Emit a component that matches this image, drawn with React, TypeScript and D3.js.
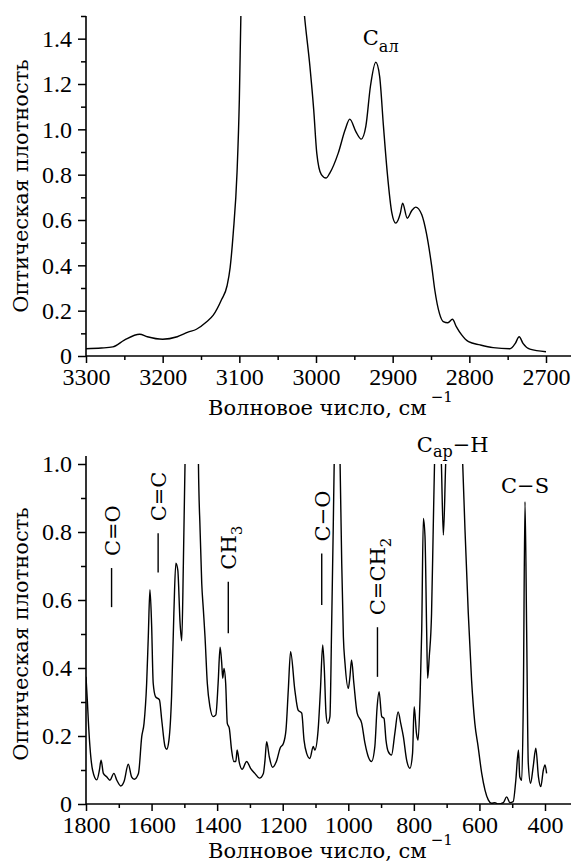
import React, { useEffect, useRef } from 'react';
import * as d3 from 'd3';

// верхний спектр (3300–2700 см-1)
const topWavenumbers = [
  3300, 3280, 3265, 3250, 3230, 3220, 3200, 3181, 3167, 3156,
  3143, 3134, 3123, 3116, 3112, 3108, 3103, 3100, 3098, 3090,
  3060, 3030, 3015, 3008, 3003, 2999, 2993, 2987, 2982, 2971,
  2962, 2956, 2948, 2941, 2935, 2929, 2922, 2917, 2912, 2907,
  2901, 2896, 2890, 2887, 2881, 2875, 2870, 2862, 2856, 2849,
  2845, 2839, 2834, 2828, 2822, 2817, 2810, 2801, 2786, 2769,
  2747, 2740, 2735, 2730, 2721, 2700,
];
const topAbsorbance = [
  0.032, 0.035, 0.04, 0.07, 0.096, 0.085, 0.074, 0.085, 0.105, 0.118,
  0.15, 0.18, 0.25, 0.31, 0.39, 0.54, 0.81, 1.13, 1.5, 2.2,
  2.6, 2.2, 1.5, 1.28, 1.087, 0.895, 0.8, 0.785, 0.807, 0.895,
  0.998, 1.045, 0.99, 0.957, 1.013, 1.19, 1.296, 1.234, 1.013, 0.807,
  0.63, 0.586, 0.63, 0.674, 0.608, 0.642, 0.657, 0.623, 0.542, 0.394,
  0.29, 0.188, 0.152, 0.147, 0.162, 0.13, 0.093, 0.063, 0.049, 0.037,
  0.032, 0.056, 0.085, 0.056, 0.03, 0.019,
];

// нижний спектр (1800–400 см-1)
const bottomWavenumbers = [
  1800, 1796, 1793, 1788, 1780, 1767, 1759, 1754, 1747, 1737,
  1727, 1715, 1706, 1694, 1684, 1671, 1661, 1653, 1640, 1630,
  1623, 1615, 1610, 1605, 1600, 1595, 1588, 1576, 1569, 1559,
  1554, 1547, 1539, 1532, 1526, 1520, 1513, 1508, 1503, 1498,
  1490, 1475, 1460, 1457, 1452, 1447, 1442, 1437, 1430, 1422,
  1412, 1404, 1397, 1391, 1386, 1383, 1379, 1374, 1369, 1363,
  1356, 1349, 1343, 1339, 1332, 1324, 1310, 1298, 1285, 1271,
  1259, 1254, 1249, 1241, 1231, 1218, 1208, 1198, 1190, 1183,
  1176, 1163, 1153, 1142, 1135, 1127, 1117, 1107, 1102, 1092,
  1085, 1078, 1073, 1068, 1063, 1056, 1051, 1046, 1043, 1035,
  1025, 1020, 1015, 1010, 1000, 995, 990, 983, 973, 959,
  949, 939, 929, 919, 912, 906, 898, 891, 885, 878,
  868, 858, 848, 840, 832, 822, 812, 804, 799, 792,
  787, 781, 776, 771, 766, 761, 758, 753, 746, 741,
  737, 727, 716, 710, 703, 680, 651, 644, 634, 624,
  614, 604, 593, 583, 573, 563, 553, 543, 527, 517,
  507, 497, 489, 481, 477, 471, 466, 461, 456, 451,
  444, 436, 428, 420, 413, 405, 400, 395,
];
const bottomAbsorbance = [
  0.374, 0.306, 0.247, 0.169, 0.1, 0.071, 0.1, 0.129, 0.09, 0.08,
  0.07, 0.09, 0.07, 0.053, 0.066, 0.117, 0.08, 0.073, 0.09, 0.198,
  0.237, 0.355, 0.492, 0.63, 0.531, 0.355, 0.316, 0.306, 0.247, 0.169,
  0.161, 0.188, 0.316, 0.561, 0.708, 0.688, 0.531, 0.48, 0.708, 1.0,
  1.3, 1.5, 1.3, 1.0, 0.806, 0.649, 0.571, 0.492, 0.355, 0.286,
  0.257, 0.262, 0.355, 0.461, 0.414, 0.37, 0.399, 0.355, 0.237, 0.223,
  0.159, 0.125, 0.125, 0.159, 0.12, 0.102, 0.125, 0.105, 0.09, 0.076,
  0.09, 0.129, 0.183, 0.139, 0.108, 0.129, 0.164, 0.178, 0.218, 0.335,
  0.448, 0.335, 0.276, 0.267, 0.188, 0.149, 0.134, 0.169, 0.159, 0.218,
  0.335, 0.468, 0.394, 0.267, 0.237, 0.257, 0.512, 0.806, 1.0, 1.4,
  1.0, 0.708, 0.492, 0.414, 0.34, 0.374, 0.424, 0.355, 0.267, 0.237,
  0.178, 0.139, 0.125, 0.169, 0.286, 0.33, 0.257, 0.252, 0.188, 0.154,
  0.144, 0.208, 0.271, 0.237, 0.198, 0.129, 0.105, 0.149, 0.286, 0.208,
  0.188, 0.316, 0.512, 0.84, 0.786, 0.512, 0.37, 0.433, 0.561, 0.806,
  1.0, 1.3, 1.0, 0.791, 1.0, 1.5, 1.0, 0.806, 0.561, 0.365,
  0.237, 0.169, 0.09, 0.041, 0.012, 0.002, 0.004, 0, 0.004, 0.021,
  0.004, 0.007, 0.07, 0.159, 0.08, 0.07, 0.316, 0.889, 0.512, 0.12,
  0.061, 0.11, 0.164, 0.08, 0.051, 0.1, 0.115, 0.09,
];

const topXMajor = [3300, 3200, 3100, 3000, 2900, 2800, 2700];
const topXMinor = [3250, 3150, 3050, 2950, 2850, 2750];
const topYMajor = [0, 0.2, 0.4, 0.6, 0.8, 1.0, 1.2, 1.4];
const topYMinor = [0.1, 0.3, 0.5, 0.7, 0.9, 1.1, 1.3, 1.5];
const bottomXMajor = [1800, 1600, 1400, 1200, 1000, 800, 600, 400];
const bottomXMinor = [1700, 1500, 1300, 1100, 900, 700, 500];
const bottomYMajor = [0, 0.2, 0.4, 0.6, 0.8, 1.0];
const bottomYMinor = [0.1, 0.3, 0.5, 0.7, 0.9];

// отметки полос на нижнем спектре
const bandLabels = ['C=O', 'C=C', 'CH', 'C−O', 'C=CH'];
const bandSubs = ['', '', '3', '', '2'];
const bandWavenumbers = [1722, 1580, 1366, 1081, 911];
const bandLow = [0.579, 0.681, 0.502, 0.585, 0.374];
const bandHigh = [0.694, 0.796, 0.654, 0.737, 0.52];

const yTitle = 'Оптическая плотность';
const xTitle = 'Волновое число, см';

const TICK_FONT = 'Liberation Serif, serif';
const TEXT_FONT = 'DejaVu Serif, serif';
const AXIS_END = 571;

const fmtY = (d) => (d === 0 ? '0' : d3.format('.1f')(d));

const tickFont = sel => sel.style('font-family', TICK_FONT).style('font-size', '24px');
const textFont = (sel, size = 21) => sel.style('font-family', TEXT_FONT).style('font-size', `${size}px`);

function drawPanel(svg, { id, x, y, wn, ab, xMajor, xMinor, yMajor, yMinor, axisTop, clipTop, titleY }) {
  const x0 = x.range()[0];
  const y0 = y.range()[0];

  svg.append('clipPath').attr('id', id)
    .append('rect')
    .attr('x', x0).attr('y', clipTop)
    .attr('width', AXIS_END - x0).attr('height', y0 - clipTop);

  const line = d3.line()
    .x((d, i) => x(wn[i]))
    .y(d => y(d))
    .curve(d3.curveMonotoneX);

  svg.append('path')
    .attr('d', line(ab))
    .attr('clip-path', `url(#${id})`)
    .attr('fill', 'none')
    .attr('stroke', '#000')
    .attr('stroke-width', 1.4)
    .attr('stroke-linejoin', 'round');

  const style = g => {
    g.select('.domain').remove();
    g.selectAll('line').attr('stroke-width', 1.5);
    g.attr('font-family', null).attr('font-size', null).call(tickFont);
  };

  svg.append('g')
    .attr('transform', `translate(0,${y0})`)
    .call(d3.axisBottom(x).tickValues(xMajor).tickSize(7).tickPadding(5).tickFormat(d3.format('d')))
    .call(style);
  svg.append('g')
    .attr('transform', `translate(0,${y0})`)
    .call(d3.axisBottom(x).tickValues(xMinor).tickSize(4).tickFormat(() => ''))
    .call(style);
  svg.append('g')
    .attr('transform', `translate(${x0},0)`)
    .call(d3.axisLeft(y).tickValues(yMajor).tickSize(8).tickPadding(6).tickFormat(fmtY))
    .call(style);
  svg.append('g')
    .attr('transform', `translate(${x0},0)`)
    .call(d3.axisLeft(y).tickValues(yMinor).tickSize(5).tickFormat(() => ''))
    .call(style);

  // оси
  svg.append('line')
    .attr('x1', x0).attr('x2', AXIS_END).attr('y1', y0).attr('y2', y0)
    .attr('stroke', '#000').attr('stroke-width', 1.6);
  svg.append('line')
    .attr('x1', x0).attr('x2', x0).attr('y1', y0).attr('y2', axisTop)
    .attr('stroke', '#000').attr('stroke-width', 1.6);

  // подписи осей
  const midY = (y.range()[0] + y.range()[1]) / 2;
  svg.append('text')
    .attr('transform', `translate(28,${midY}) rotate(-90)`)
    .attr('text-anchor', 'middle')
    .call(textFont)
    .text(yTitle);

  const t = svg.append('text')
    .attr('x', 208).attr('y', titleY)
    .call(textFont);
  t.append('tspan').text(xTitle);
  t.append('tspan').attr('dx', 4).attr('dy', -13).style('font-size', '15px').text('−1');
}

const App = () => {
  const svgRef = useRef(null);

  useEffect(() => {
    const svg = d3.select(svgRef.current);
    svg.selectAll('*').remove();

    const xTop = d3.scaleLinear().domain([3300, 2700]).range([86, 546]);
    const yTop = d3.scaleLinear().domain([0, 1.5]).range([356, 16]);
    const xBot = d3.scaleLinear().domain([1800, 400]).range([86, 545]);
    const yBot = d3.scaleLinear().domain([0, 1.0]).range([804, 464]);

    drawPanel(svg, {
      id: 'clip-top', x: xTop, y: yTop, wn: topWavenumbers, ab: topAbsorbance,
      xMajor: topXMajor, xMinor: topXMinor, yMajor: topYMajor, yMinor: topYMinor,
      axisTop: yTop(1.5), clipTop: yTop(1.5), titleY: 415,
    });
    drawPanel(svg, {
      id: 'clip-bot', x: xBot, y: yBot, wn: bottomWavenumbers, ab: bottomAbsorbance,
      xMajor: bottomXMajor, xMinor: bottomXMinor, yMajor: bottomYMajor, yMinor: bottomYMinor,
      axisTop: yBot(1.0) - 8, clipTop: yBot(1.0), titleY: 858,
    });

    // С_ал над верхним спектром
    const cal = svg.append('text')
      .attr('x', xTop(2939)).attr('y', yTop(1.374))
      .call(textFont);
    cal.append('tspan').text('С');
    cal.append('tspan').attr('dy', 7).style('font-size', '16px').text('ал');

    // вертикальные отметки полос
    bandLabels.forEach((label, i) => {
      const bx = xBot(bandWavenumbers[i]);
      svg.append('line')
        .attr('x1', bx).attr('x2', bx)
        .attr('y1', yBot(bandLow[i])).attr('y2', yBot(bandHigh[i]))
        .attr('stroke', '#000').attr('stroke-width', 1.4);
      const txt = svg.append('text')
        .attr('transform', `translate(${bx + 8},${yBot(bandHigh[i]) - 12}) rotate(-90)`)
        .call(textFont);
      txt.append('tspan').text(label);
      if (bandSubs[i]) txt.append('tspan').attr('dy', 6).style('font-size', '15px').text(bandSubs[i]);
    });

    // C_ар−H
    const car = svg.append('text')
      .attr('x', xBot(791)).attr('y', yBot(1.0) - 12)
      .call(textFont);
    car.append('tspan').text('C');
    car.append('tspan').attr('dy', 5).style('font-size', '16px').text('ар');
    car.append('tspan').attr('dy', -5).text('−H');

    // C−S
    svg.append('text')
      .attr('x', xBot(461)).attr('y', yBot(0.914))
      .attr('text-anchor', 'middle')
      .call(textFont)
      .text('C−S');
  }, []);

  return (
    <svg ref={svgRef} width={573} height={862}
      style={{ position: 'absolute', left: 0, top: 0, background: '#fff' }} />
  );
};

export default App;
